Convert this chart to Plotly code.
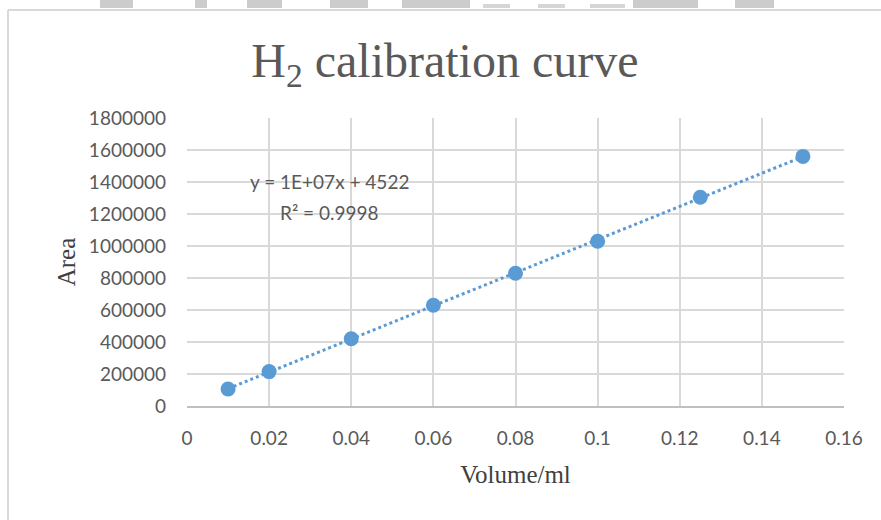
import numpy as np
import plotly.graph_objects as go

volume = [0.01, 0.02, 0.04, 0.06, 0.08, 0.10, 0.125, 0.15]
area = [106000, 215000, 420000, 630000, 830000, 1030000, 1305000, 1560000]
x_ticks = [0, 0.02, 0.04, 0.06, 0.08, 0.1, 0.12, 0.14, 0.16]
y_ticks = [0, 200000, 400000, 600000, 800000, 1000000, 1200000, 1400000, 1600000, 1800000]

slope, intercept = np.polyfit(volume, area, 1)
fit_x = [min(volume), max(volume)]
fit_y = [slope * v + intercept for v in fit_x]

blue = "#5b9bd5"
serif = "'Liberation Serif', 'Times New Roman', serif"
sans = "Lato, 'Liberation Sans', sans-serif"

fig = go.Figure()
fig.add_trace(go.Scatter(x=fit_x, y=fit_y, mode="lines",
                         line=dict(color=blue, width=3, dash="dot"), hoverinfo="skip"))
fig.add_trace(go.Scatter(x=volume, y=area, mode="markers",
                         marker=dict(color=blue, size=15)))

tick_font = dict(family=sans, size=19, color="#595959")
fig.update_layout(
    width=881, height=520, showlegend=False,
    paper_bgcolor="white", plot_bgcolor="white",
    margin=dict(l=187, r=37, t=118, b=114),
    title=dict(text="H<sub>2</sub> calibration curve", x=0.505, xanchor="center",
               y=0.885, yanchor="middle",
               font=dict(family=serif, size=48, color="#595959")),
    xaxis=dict(range=[0, 0.16], tickvals=x_ticks, ticktext=[f"{v:g}" for v in x_ticks],
               showgrid=True, gridcolor="#d9d9d9", gridwidth=1.5, zeroline=False,
               showline=True, linecolor="#bfbfbf", linewidth=1.5,
               tickfont=tick_font, ticks="", ticklabelstandoff=14,
               title=dict(text="Volume/ml", standoff=18,
                          font=dict(family=serif, size=25, color="#404040"))),
    yaxis=dict(range=[0, 1800000], tickvals=y_ticks, ticktext=[str(v) for v in y_ticks],
               showgrid=True, gridcolor="#d9d9d9", gridwidth=1.5, zeroline=False,
               showline=False, tickfont=tick_font, ticks="", ticklabelstandoff=20,
               title=dict(text="Area", standoff=6,
                          font=dict(family=serif, size=25, color="#404040"))),
)

fig.add_annotation(xref="paper", yref="paper", x=(329-187)/657, y=(406-181)/288,
                   xanchor="center", yanchor="middle",
                   text="y = 1E+07x + 4522", showarrow=False,
                   font=dict(family=sans, size=19, color="#595959"))
fig.add_annotation(xref="paper", yref="paper", x=(329-187)/657, y=(406-212)/288,
                   xanchor="center", yanchor="middle",
                   text="R² = 0.9998", showarrow=False,
                   font=dict(family=sans, size=19, color="#595959"))

# outer chart border (top and left visible)
top_y = 1 + (118 - 10) / 288
left_x = (8 - 187) / 657
fig.add_shape(type="line", xref="paper", yref="paper", x0=left_x, x1=(881 - 187) / 657,
              y0=top_y, y1=top_y, line=dict(color="#d9d9d9", width=2))
fig.add_shape(type="line", xref="paper", yref="paper", x0=left_x, x1=left_x,
              y0=top_y, y1=-114 / 288 - 0.1, line=dict(color="#d9d9d9", width=2))

# gray strip at the very top (part of page background)
segs = [(100, 133), (195, 207), (247, 282), (330, 368), (402, 470), (633, 698), (735, 774)]
for a, b in segs:
    fig.add_shape(type="rect", xref="paper", yref="paper",
                  x0=(a - 187) / 657, x1=(b - 187) / 657, y0=1 + 118 / 288, y1=1 + 110 / 288,
                  fillcolor="#cccccc", line=dict(width=0), layer="below")
for a, b in [(483, 510), (538, 565), (590, 625)]:
    fig.add_shape(type="rect", xref="paper", yref="paper",
                  x0=(a - 187) / 657, x1=(b - 187) / 657, y0=1 + 114 / 288, y1=1 + 110 / 288,
                  fillcolor="#d6d6d6", line=dict(width=0), layer="below")

fig.write_html("out.html")
